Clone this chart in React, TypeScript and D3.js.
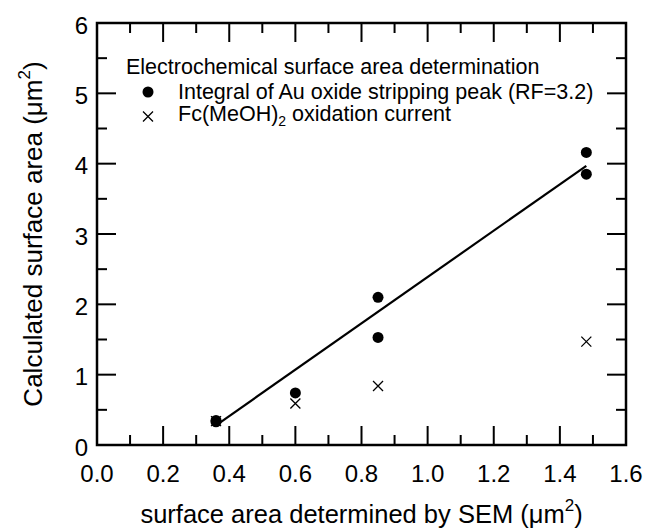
import React from 'react'
import * as d3 from 'd3'

// values
const xTicks = [0, 0.2, 0.4, 0.6, 0.8, 1.0, 1.2, 1.4, 1.6]
const xMinor = [0.1, 0.3, 0.5, 0.7, 0.9, 1.1, 1.3, 1.5]
const yTicks = [0, 1, 2, 3, 4, 5, 6]
const yMinor = [0.5, 1.5, 2.5, 3.5, 4.5, 5.5]

const auSem = [0.36, 0.36, 0.6, 0.85, 0.85, 1.48, 1.48]
const auArea = [0.35, 0.33, 0.74, 2.1, 1.53, 4.16, 3.85]
const fcSem = [0.36, 0.6, 0.85, 1.48]
const fcArea = [0.34, 0.59, 0.84, 1.47]
const fitSem = [0.36, 1.48]
const fitArea = [0.28, 3.97]

const W = 646
const H = 530
const FONT = '"Liberation Sans", Arial, Helvetica, sans-serif'

export default function App() {
  const x = d3.scaleLinear().domain([0, 1.6]).range([97, 626])
  const y = d3.scaleLinear().domain([0, 6]).range([445, 23])
  const [x0, x1] = x.range()
  const [y0, y1] = y.range()

  const MAJ = 19
  const MIN = 10

  const line = d3.line<number>()
    .x(d => x(fitSem[d]))
    .y(d => y(fitArea[d]))

  const cross = (cx: number, cy: number, s: number, key: string) => (
    <path
      key={key}
      d={`M${cx - s},${cy - s}L${cx + s},${cy + s}M${cx - s},${cy + s}L${cx + s},${cy - s}`}
      stroke="#000"
      strokeWidth={1.3}
      fill="none"
    />
  )

  return (
    <svg
      width={W}
      height={H}
      style={{ position: 'absolute', left: 0, top: 0, display: 'block', background: '#fff' }}
      fontFamily={FONT}
    >
      {/* ticks: inward on all four sides */}
      <g stroke="#000" strokeWidth={2}>
        {xTicks.map(t => (
          <g key={'xt' + t}>
            <line x1={x(t)} x2={x(t)} y1={y0} y2={y0 - MAJ} />
            <line x1={x(t)} x2={x(t)} y1={y1} y2={y1 + MAJ} />
          </g>
        ))}
        {xMinor.map(t => (
          <g key={'xm' + t}>
            <line x1={x(t)} x2={x(t)} y1={y0} y2={y0 - MIN} />
            <line x1={x(t)} x2={x(t)} y1={y1} y2={y1 + MIN} />
          </g>
        ))}
        {yTicks.map(t => (
          <g key={'yt' + t}>
            <line x1={x0} x2={x0 + MAJ} y1={y(t)} y2={y(t)} />
            <line x1={x1} x2={x1 - MAJ} y1={y(t)} y2={y(t)} />
          </g>
        ))}
        {yMinor.map(t => (
          <g key={'ym' + t}>
            <line x1={x0} x2={x0 + MIN} y1={y(t)} y2={y(t)} />
            <line x1={x1} x2={x1 - MIN} y1={y(t)} y2={y(t)} />
          </g>
        ))}
      </g>
      <rect x={x0} y={y1} width={x1 - x0} height={y0 - y1} fill="none" stroke="#000" strokeWidth={2.5} />

      {/* tick labels */}
      <g fontSize={24} fill="#000">
        {xTicks.map(t => (
          <text key={'xl' + t} x={x(t)} y={482} textAnchor="middle">{t.toFixed(1)}</text>
        ))}
        {yTicks.map(t => (
          <text key={'yl' + t} x={88} y={y(t) + 10.5} textAnchor="end">{t}</text>
        ))}
      </g>

      {/* axis titles */}
      <text x={(x0 + x1) / 2} y={523} textAnchor="middle" fontSize={25.5}>
        surface area determined by SEM (μm<tspan fontSize={17} dy={-12}>2</tspan><tspan dy={12}>)</tspan>
      </text>
      <text
        transform={`translate(42,${(y0 + y1) / 2}) rotate(-90)`}
        textAnchor="middle"
        fontSize={26}
      >
        Calculated surface area (μm<tspan fontSize={17} dy={-12}>2</tspan><tspan dy={12}>)</tspan>
      </text>

      {/* fit line */}
      <path d={line([0, 1]) ?? ''} stroke="#000" strokeWidth={2.2} fill="none" />

      {/* Fc(MeOH)2 oxidation current */}
      {fcSem.map((s, i) => cross(x(s), y(fcArea[i]), 5, 'fc' + i))}

      {/* Au oxide stripping */}
      {auSem.map((s, i) => (
        <circle key={'au' + i} cx={x(s)} cy={y(auArea[i])} r={5.5} fill="#000" />
      ))}

      {/* legend */}
      <g fontSize={21.5} fill="#000">
        <text x={126} y={74}>Electrochemical surface area determination</text>
        <circle cx={148} cy={92} r={5.5} fill="#000" />
        <text x={178} y={99}>Integral of Au oxide stripping peak (RF=3.2)</text>
        {cross(148, 116.5, 5, 'legfc')}
        <text x={178} y={121}>
          Fc(MeOH)<tspan fontSize={14} dy={5}>2</tspan><tspan dy={-5}> oxidation current</tspan>
        </text>
      </g>
    </svg>
  )
}
